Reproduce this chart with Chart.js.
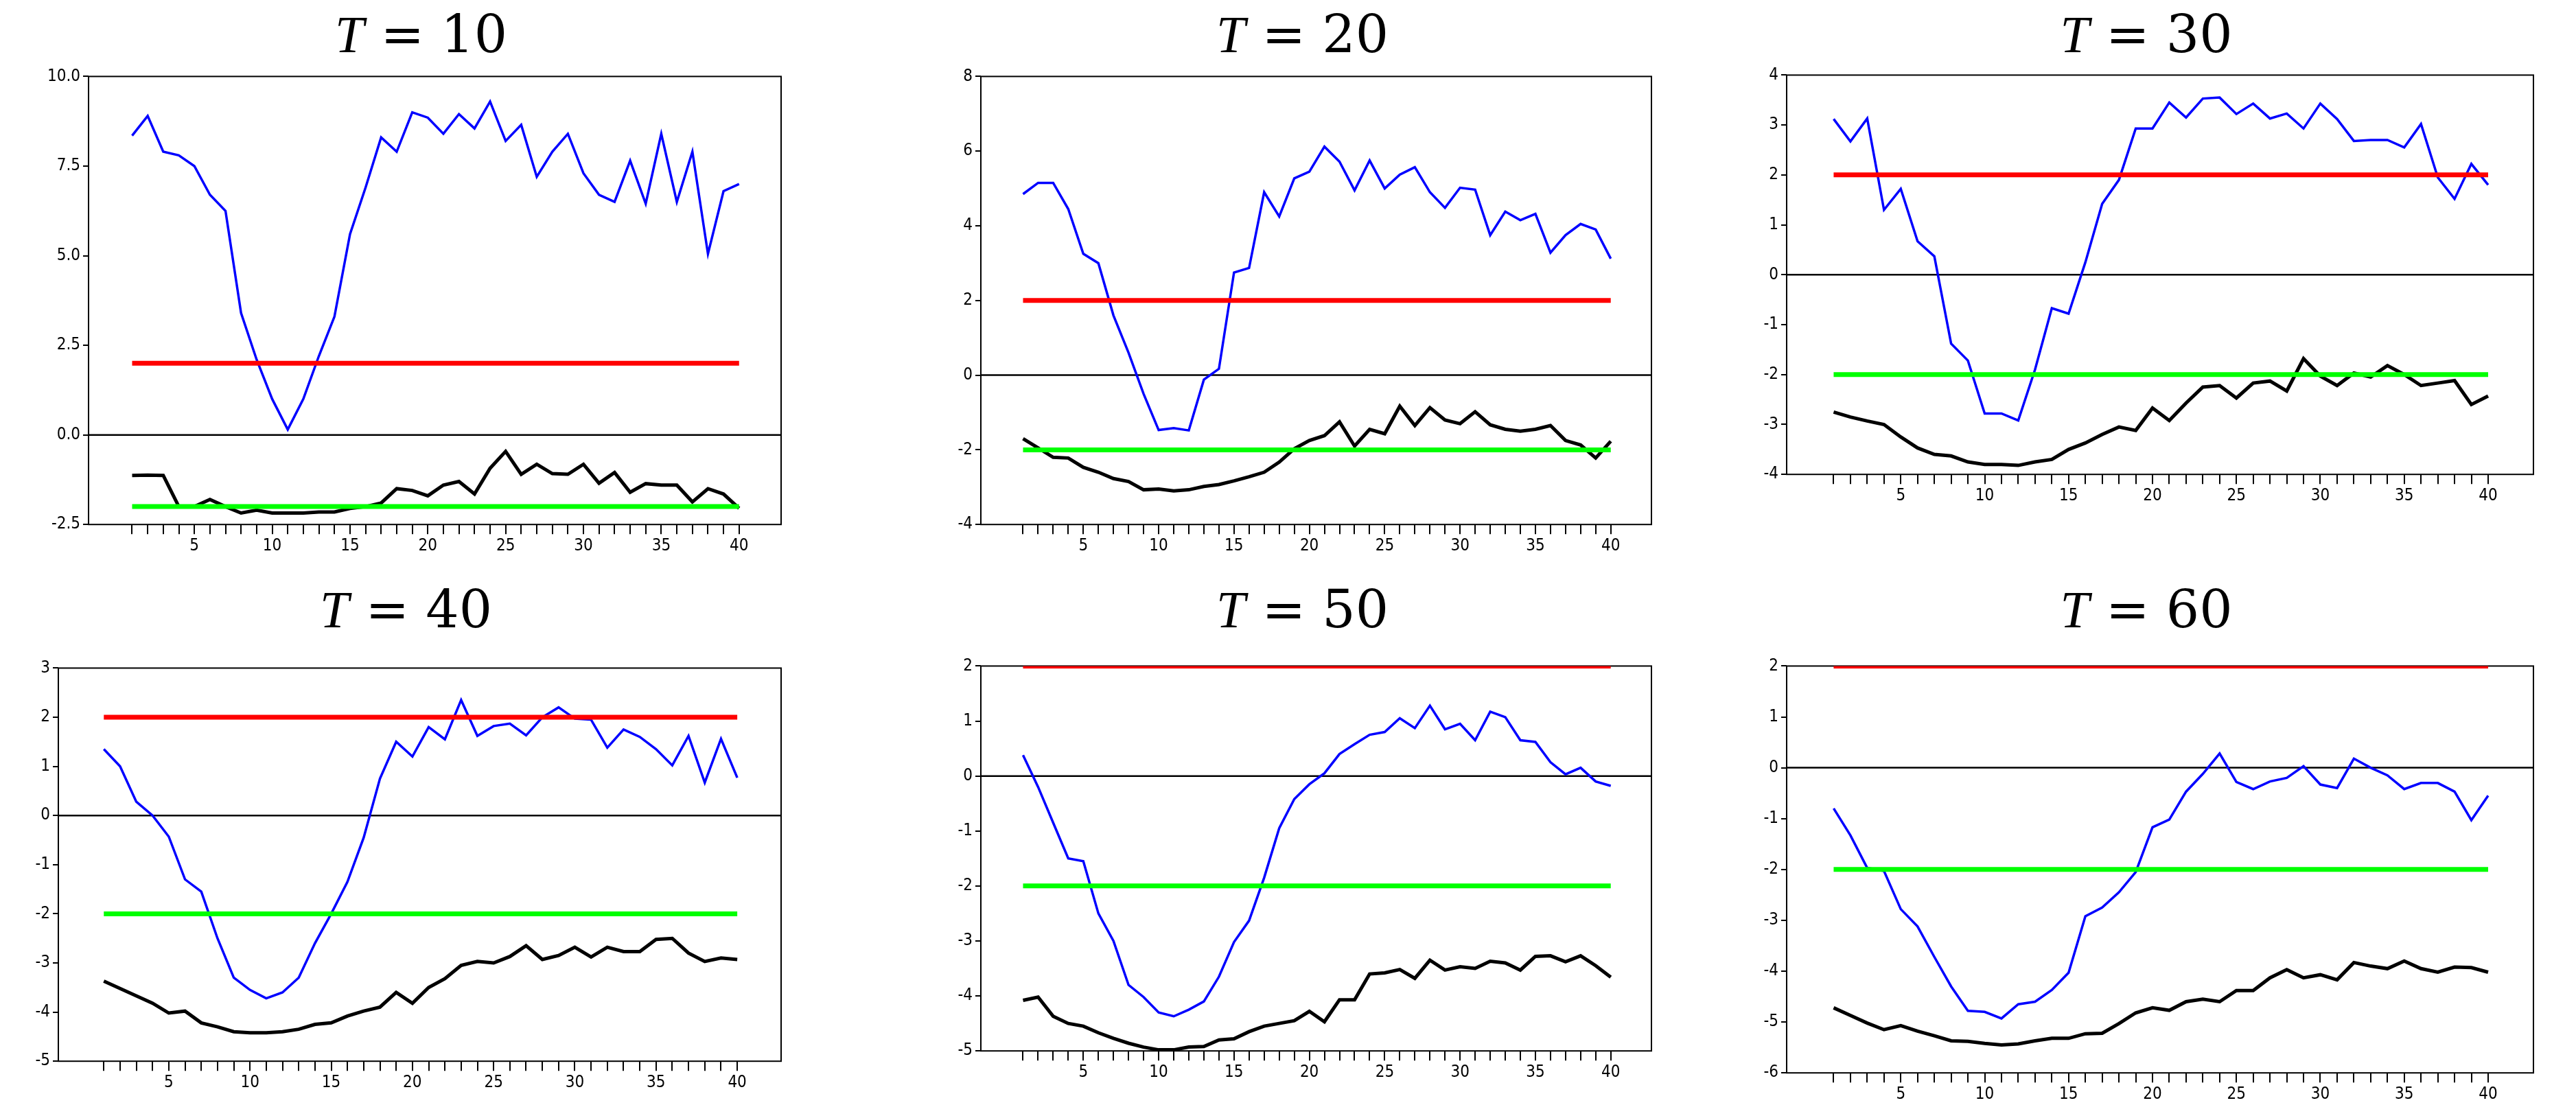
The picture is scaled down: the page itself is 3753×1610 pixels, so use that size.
<!DOCTYPE html>
<html>
<head>
<meta charset="utf-8">
<script src="https://cdn.jsdelivr.net/npm/chart.js@4.4.0/dist/chart.umd.min.js"></script>
<style>
  body { margin: 0; background: #fff; width: 3753px; height: 1610px; position: relative; overflow: hidden; }
  .panel { position: absolute; }
  .title { position: absolute; text-align: center; font-family: "DejaVu Serif", "Liberation Serif", serif; font-size: 76px; color: #000; }
  .title i { font-family: "Liberation Serif", serif; }
</style>
</head>
<body>
<script>
// horizons 1..40
const horizons = Array.from({ length: 40 }, (_, i) => i + 1);
const panelTitles = ["10", "20", "30", "40", "50", "60"];

const blueT10 = [8.35, 8.9, 7.9, 7.8, 7.5, 6.7, 6.25, 3.4, 2.1, 1.0, 0.15, 1.0, 2.2, 3.3, 5.6, 6.9, 8.3, 7.9, 9.0, 8.85, 8.4, 8.95, 8.55, 9.3, 8.2, 8.65, 7.2, 7.9, 8.4, 7.3, 6.7, 6.5, 7.65, 6.45, 8.4, 6.5, 7.9, 5.05, 6.8, 7.0];
const blackT10 = [-1.13, -1.12, -1.13, -2.0, -2.0, -1.8, -2.0, -2.18, -2.1, -2.18, -2.18, -2.18, -2.15, -2.15, -2.05, -2.0, -1.9, -1.5, -1.55, -1.7, -1.4, -1.3, -1.65, -0.93, -0.46, -1.1, -0.82, -1.08, -1.1, -0.82, -1.35, -1.05, -1.6, -1.36, -1.4, -1.4, -1.87, -1.5, -1.65, -2.05];

const blueT20 = [4.85, 5.15, 5.15, 4.45, 3.25, 3.0, 1.6, 0.6, -0.5, -1.47, -1.42, -1.48, -0.12, 0.17, 2.75, 2.87, 4.9, 4.25, 5.27, 5.45, 6.12, 5.72, 4.95, 5.75, 5.0, 5.37, 5.57, 4.9, 4.48, 5.02, 4.97, 3.75, 4.38, 4.15, 4.32, 3.28, 3.75, 4.05, 3.9, 3.12];
const blackT20 = [-1.7, -1.95, -2.2, -2.22, -2.47, -2.6, -2.77, -2.85, -3.07, -3.05, -3.1, -3.07, -2.98, -2.93, -2.83, -2.72, -2.6, -2.33, -1.97, -1.75, -1.62, -1.25, -1.9, -1.45, -1.57, -0.83, -1.35, -0.87, -1.2, -1.3, -0.98, -1.33, -1.45, -1.5, -1.45, -1.35, -1.75, -1.87, -2.22, -1.77];

const blueT30 = [3.12, 2.67, 3.13, 1.3, 1.72, 0.67, 0.37, -1.38, -1.72, -2.78, -2.78, -2.92, -1.9, -0.67, -0.78, 0.25, 1.42, 1.9, 2.93, 2.93, 3.45, 3.15, 3.53, 3.55, 3.22, 3.43, 3.13, 3.23, 2.93, 3.43, 3.12, 2.68, 2.7, 2.7, 2.55, 3.02, 1.95, 1.52, 2.22, 1.8];
const blackT30 = [-2.75, -2.85, -2.93, -3.0, -3.25, -3.47, -3.6, -3.63, -3.75, -3.8, -3.8, -3.82, -3.75, -3.7, -3.5, -3.37, -3.2, -3.05, -3.12, -2.67, -2.92, -2.57, -2.25, -2.22, -2.47, -2.17, -2.13, -2.33, -1.68, -2.03, -2.22, -1.97, -2.05, -1.82, -2.0, -2.22, -2.17, -2.12, -2.6, -2.43];

const blueT40 = [1.35, 1.0, 0.28, 0.0, -0.43, -1.3, -1.55, -2.5, -3.3, -3.55, -3.72, -3.6, -3.3, -2.6, -2.0, -1.35, -0.45, 0.75, 1.5, 1.2, 1.8, 1.55, 2.35, 1.62, 1.82, 1.87, 1.63, 2.0, 2.2, 1.97, 1.95, 1.38, 1.75, 1.6, 1.35, 1.02, 1.62, 0.67, 1.56, 0.77];
const blackT40 = [-3.37, -3.52, -3.67, -3.82, -4.02, -3.98, -4.22, -4.3, -4.4, -4.42, -4.42, -4.4, -4.35, -4.25, -4.22, -4.08, -3.98, -3.9, -3.6, -3.82, -3.5, -3.32, -3.05, -2.97, -3.0, -2.87, -2.65, -2.93, -2.85, -2.68, -2.88, -2.68, -2.77, -2.77, -2.52, -2.5, -2.8, -2.97, -2.9, -2.93];

const blueT50 = [0.38, -0.2, -0.85, -1.5, -1.55, -2.5, -3.0, -3.8, -4.02, -4.3, -4.37, -4.25, -4.1, -3.65, -3.02, -2.63, -1.85, -0.95, -0.42, -0.15, 0.05, 0.4, 0.58, 0.75, 0.8, 1.05, 0.87, 1.28, 0.85, 0.95, 0.65, 1.17, 1.07, 0.65, 0.62, 0.25, 0.03, 0.15, -0.1, -0.18];
const blackT50 = [-4.08, -4.02, -4.37, -4.5, -4.55, -4.67, -4.77, -4.86, -4.93, -4.98, -4.98, -4.93, -4.92, -4.8, -4.78, -4.65, -4.55, -4.5, -4.45, -4.28, -4.47, -4.07, -4.07, -3.6, -3.58, -3.52, -3.68, -3.35, -3.53, -3.47, -3.5, -3.37, -3.4, -3.53, -3.28, -3.27, -3.38, -3.27, -3.45, -3.66];

const blueT60 = [-0.8, -1.33, -1.97, -2.03, -2.78, -3.12, -3.72, -4.3, -4.78, -4.8, -4.93, -4.65, -4.6, -4.37, -4.03, -2.92, -2.75, -2.45, -2.05, -1.17, -1.02, -0.47, -0.12, 0.28, -0.28, -0.42, -0.27, -0.2, 0.03, -0.33, -0.4, 0.18, 0.0, -0.15, -0.42, -0.3, -0.3, -0.47, -1.03, -0.55];
const blackT60 = [-4.72, -4.87, -5.02, -5.15, -5.07, -5.18, -5.27, -5.37, -5.38, -5.42, -5.45, -5.43, -5.37, -5.32, -5.32, -5.23, -5.22, -5.03, -4.82, -4.72, -4.77, -4.6, -4.55, -4.6, -4.38, -4.38, -4.13, -3.97, -4.13, -4.07, -4.17, -3.83, -3.9, -3.95, -3.8, -3.95, -4.02, -3.92, -3.93, -4.02];

const upperBound = [2, 2];
const lowerBound = [-2, -2];
const boundX = [1, 40];

const yMin = [-2.5, -4, -4, -5, -5, -6];
const yMax = [10, 8, 4, 3, 2, 2];
const yStep = [2.5, 2, 1, 1, 1, 1];

const blueSeries = [blueT10, blueT20, blueT30, blueT40, blueT50, blueT60];
const blackSeries = [blackT10, blackT20, blackT30, blackT40, blackT50, blackT60];

// plot-area boxes [left, top, right, bottom] in page pixels
const boxes = [
  [129, 103, 1138, 753],
  [1429, 103, 2406, 753],
  [2603, 101, 3691, 680],
  [85, 965, 1138, 1535],
  [1429, 962, 2406, 1520],
  [2603, 962, 3691, 1552],
];
const titleY = [5, 5, 5, 843, 843, 843];

const AXIS_W = 70;

const frame = {
  id: "frame",
  beforeDatasetsDraw(chart) {
    const { ctx, chartArea: a, scales } = chart;
    ctx.save();
    ctx.strokeStyle = "#000";
    ctx.lineWidth = 2;
    ctx.strokeRect(a.left, a.top, a.right - a.left, a.bottom - a.top);
    const y0 = scales.y.getPixelForValue(0);
    ctx.lineWidth = 2.5;
    ctx.beginPath();
    ctx.moveTo(a.left, y0);
    ctx.lineTo(a.right, y0);
    ctx.stroke();
    ctx.restore();
  },
};

boxes.forEach((b, i) => {
  const [l, t, r, btm] = b;
  const div = document.createElement("div");
  div.className = "panel";
  const w = r - l + AXIS_W + 10;
  const h = btm - t + 70;
  div.style.left = (l - AXIS_W) + "px";
  div.style.top = (t - 10) + "px";
  div.style.width = w + "px";
  div.style.height = h + "px";
  const cv = document.createElement("canvas");
  div.appendChild(cv);
  document.body.appendChild(div);

  const tt = document.createElement("div");
  tt.className = "title";
  tt.style.left = (l - 20) + "px";
  tt.style.width = (r - l) + "px";
  tt.style.top = titleY[i] + "px";
  tt.innerHTML = "<i>T</i> = " + panelTitles[i];
  document.body.appendChild(tt);

  const pts = (arr) => arr.map((v, k) => ({ x: horizons[k], y: v }));
  const bnd = (arr) => arr.map((v, k) => ({ x: boundX[k], y: v }));

  new Chart(cv, {
    type: "line",
    data: {
      datasets: [
        { data: bnd(upperBound), borderColor: "#ff0000", borderWidth: 7 },
        { data: bnd(lowerBound), borderColor: "#00ff00", borderWidth: 7 },
        { data: pts(blueSeries[i]), borderColor: "#0000ff", borderWidth: 3.5 },
        { data: pts(blackSeries[i]), borderColor: "#000000", borderWidth: 5 },
      ],
    },
    options: {
      responsive: true,
      maintainAspectRatio: false,
      animation: false,
      elements: { point: { radius: 0 }, line: { tension: 0 } },
      layout: { padding: { top: 10, right: 10, left: 0, bottom: 0 } },
      plugins: { legend: { display: false }, tooltip: { enabled: false } },
      scales: {
        x: {
          type: "linear",
          min: -1.8,
          max: 42.7,
          afterBuildTicks: (ax) => { ax.ticks = horizons.map((v) => ({ value: v })); },
          ticks: {
            autoSkip: false,
            maxRotation: 0,
            color: "#000",
            font: { family: "DejaVu Sans Condensed, DejaVu Sans", size: 24 },
            callback: (v) => (v % 5 === 0 ? String(v) : ""),
          },
          grid: { drawOnChartArea: false, color: "#000", tickLength: 14, lineWidth: 2 },
          border: { display: false },
        },
        y: {
          min: yMin[i],
          max: yMax[i],
          afterFit: (ax) => { ax.width = AXIS_W; },
          ticks: {
            stepSize: yStep[i],
            color: "#000",
            padding: 4,
            font: { family: "DejaVu Sans Condensed, DejaVu Sans", size: 24 },
            callback: (v) => (yStep[i] === 2.5 ? v.toFixed(1) : String(v)),
          },
          grid: { drawOnChartArea: false, color: "#000", tickLength: 8, lineWidth: 2 },
          border: { display: false },
        },
      },
    },
    plugins: [frame],
  });
});
</script>
</body>
</html>
